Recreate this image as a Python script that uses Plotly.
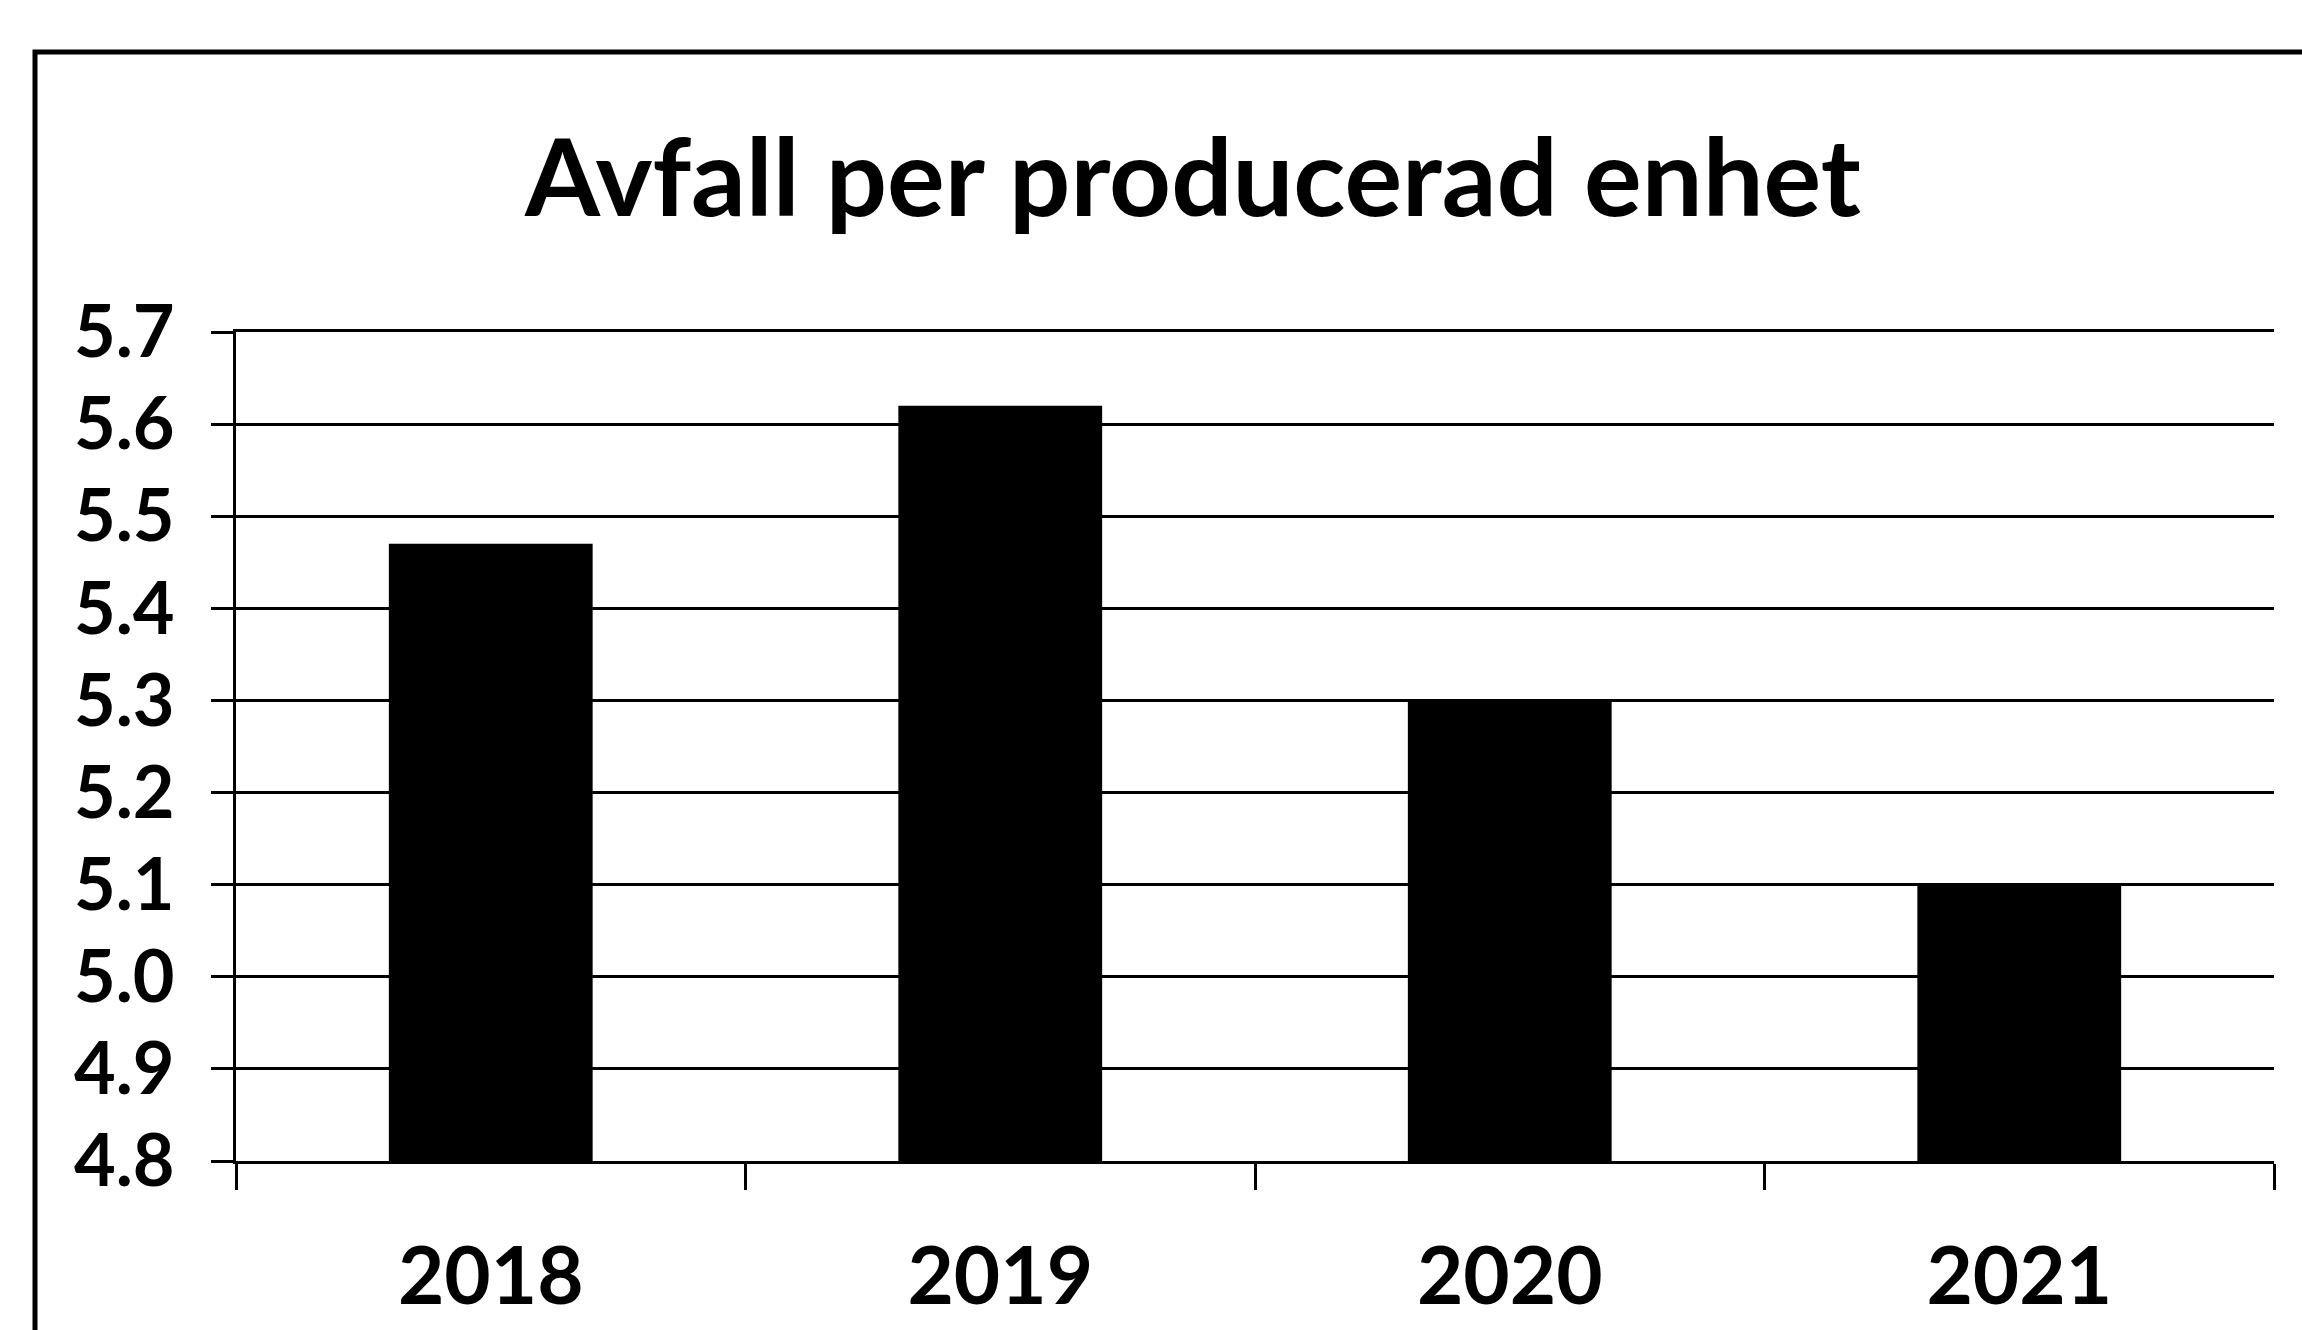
import plotly.graph_objects as go

# ---- data ----
years = ["2018", "2019", "2020", "2021"]
values = [5.47, 5.62, 5.30, 5.10]
y_ticks = [4.8, 4.9, 5.0, 5.1, 5.2, 5.3, 5.4, 5.5, 5.6, 5.7]
y_tick_labels = ["4.8", "4.9", "5.0", "5.1", "5.2", "5.3", "5.4", "5.5", "5.6", "5.7"]
title_text = "Avfall per producerad enhet"

# ---- layout geometry (pixels) ----
W, H = 2302, 1330
L, R, T, B = 236, 28, 332, 169
PW, PH = W - L - R, H - T - B


def px(x):
    return (x - L) / PW


def py(y):
    return (H - B - y) / PH


FONT = "Lato"

fig = go.Figure(
    go.Bar(
        x=years,
        y=values,
        width=0.4,
        marker=dict(color="black", line=dict(width=0)),
        hoverinfo="x+y",
    )
)

fig.update_layout(
    width=W,
    height=H,
    margin=dict(l=L, r=R, t=T, b=B, pad=0, autoexpand=False),
    paper_bgcolor="white",
    plot_bgcolor="white",
    showlegend=False,
    font=dict(family=FONT, color="black"),
)

fig.update_yaxes(
    range=[4.8, 5.7],
    tickvals=y_ticks,
    ticktext=y_tick_labels,
    showgrid=True,
    gridcolor="black",
    gridwidth=3,
    showline=True,
    linecolor="black",
    linewidth=3,
    ticks="outside",
    ticklen=22,
    tickwidth=3,
    tickcolor="black",
    tickfont=dict(size=72, family=FONT, color="black", weight="bold"),
    ticklabelstandoff=22,
    zeroline=False,
    automargin=False,
    fixedrange=True,
)

fig.update_xaxes(
    type="category",
    tickson="boundaries",
    ticks="outside",
    ticklen=26,
    tickwidth=3,
    tickcolor="black",
    showline=True,
    mirror=True,
    linecolor="black",
    linewidth=3,
    showgrid=False,
    tickfont=dict(size=80, family=FONT, color="black", weight="bold"),
    ticklabelstandoff=44,
    automargin=False,
    fixedrange=True,
)

# title
fig.add_annotation(
    text=title_text,
    xref="paper",
    yref="paper",
    x=px(1192),
    y=py(174),
    xanchor="center",
    yanchor="middle",
    showarrow=False,
    font=dict(size=108, family=FONT, color="black", weight="bold"),
)

# outer chart frame (extends past right/bottom edges)
fig.add_shape(
    type="rect",
    xref="paper",
    yref="paper",
    x0=px(35),
    x1=px(2420),
    y0=py(1420),
    y1=py(52),
    line=dict(color="black", width=5),
    fillcolor="rgba(0,0,0,0)",
    layer="below",
)

fig.write_html(
    "out.html",
    config={"displayModeBar": False},
    post_script="document.body.style.margin='0px';document.body.style.overflow='hidden';",
)
